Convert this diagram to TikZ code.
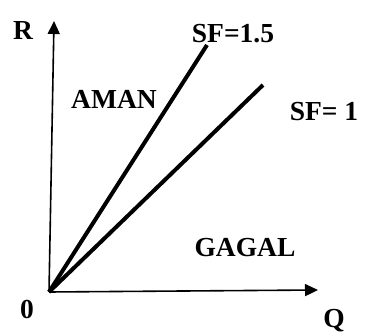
\documentclass[tikz,border=0pt]{standalone}
\usepackage{fontspec}
\setmainfont{Liberation Serif}
\usetikzlibrary{arrows.meta}
\begin{document}
\begin{tikzpicture}[x=1pt,y=-1pt,
  lbl/.style={inner sep=0pt,font=\fontsize{27.5}{27.5}\selectfont\bfseries},
  axis/.style={line width=1.6pt,-{Triangle[length=13pt,width=12pt]}},
  sfline/.style={line width=4pt}]
\useasboundingbox (0,0) rectangle (365,334);
\coordinate (O) at (49,292);
\coordinate (Rtip) at (54,21);
\coordinate (Qtip) at (318,290);
\coordinate (E15) at (207,45);
\coordinate (E1) at (263,85);
\draw[axis] (O) -- (Rtip);
\draw[axis] (O) -- (Qtip);
\draw[sfline] (O) -- (E15);
\draw[sfline] (O) -- (E1);
\node[lbl] (R) at (23,30) {R};
\node[lbl] (sf15) at (233,34) {SF=1.5};
\node[lbl] (sf1) at (324,112) {SF= 1};
\node[lbl] (aman) at (114,99) {AMAN};
\node[lbl] (gagal) at (245,248) {GAGAL};
\node[lbl] (zero) at (27,309) {0};
\node[lbl] (Q) at (334,321) {Q};
\end{tikzpicture}
\end{document}
